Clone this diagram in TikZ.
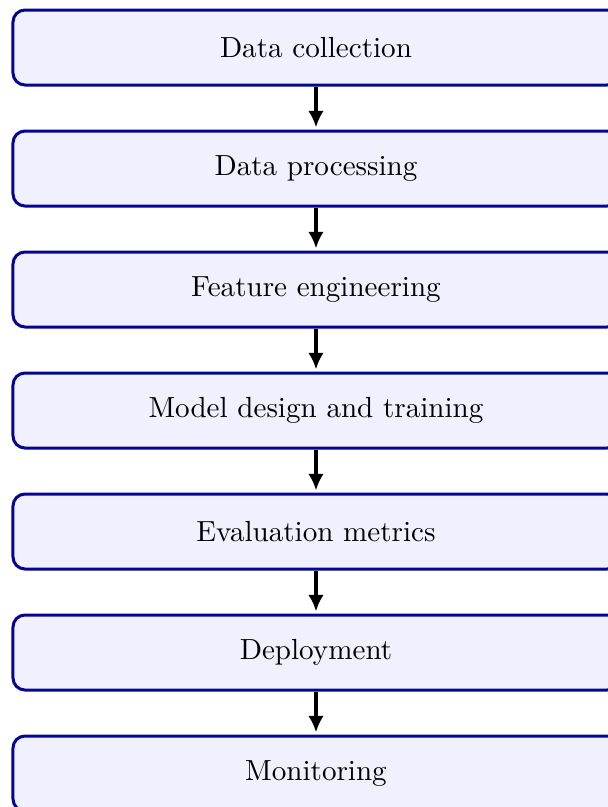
\documentclass[tikz,border=0pt]{standalone}
\usetikzlibrary{arrows.meta}
\definecolor{boxline}{RGB}{5,5,145}
\definecolor{boxfill}{RGB}{240,240,255}
\tikzset{
  stagebox/.style={draw=boxline, fill=boxfill, line width=1pt, rounded corners=4pt,
    minimum width=202pt, minimum height=25pt, anchor=center,
    font=\fontsize{9.7pt}{11.6pt}\selectfont},
  flowarrow/.style={-{Latex[length=5.5pt,width=5.2pt]}, line width=1.1pt, black, shorten >=0.7pt}
}
\begin{document}
\begin{tikzpicture}[x=1pt,y=1pt]
  \useasboundingbox (0,0) rectangle (202.67,-269);
  \node[stagebox] (s1) at (105.33,-15.83) {Data collection};
  \node[stagebox] (s2) at (105.33,-56.17) {Data processing};
  \node[stagebox] (s3) at (105.33,-96.5) {Feature engineering};
  \node[stagebox] (s4) at (105.33,-136.83) {Model design and training};
  \node[stagebox] (s5) at (105.33,-177.17) {Evaluation metrics};
  \node[stagebox] (s6) at (105.33,-217.5) {Deployment};
  \node[stagebox] (s7) at (105.33,-257.83) {Monitoring};
  \foreach \a/\b in {s1/s2,s2/s3,s3/s4,s4/s5,s5/s6,s6/s7}
    \draw[flowarrow] (\a.south) -- (\b.north);
\end{tikzpicture}
\end{document}
